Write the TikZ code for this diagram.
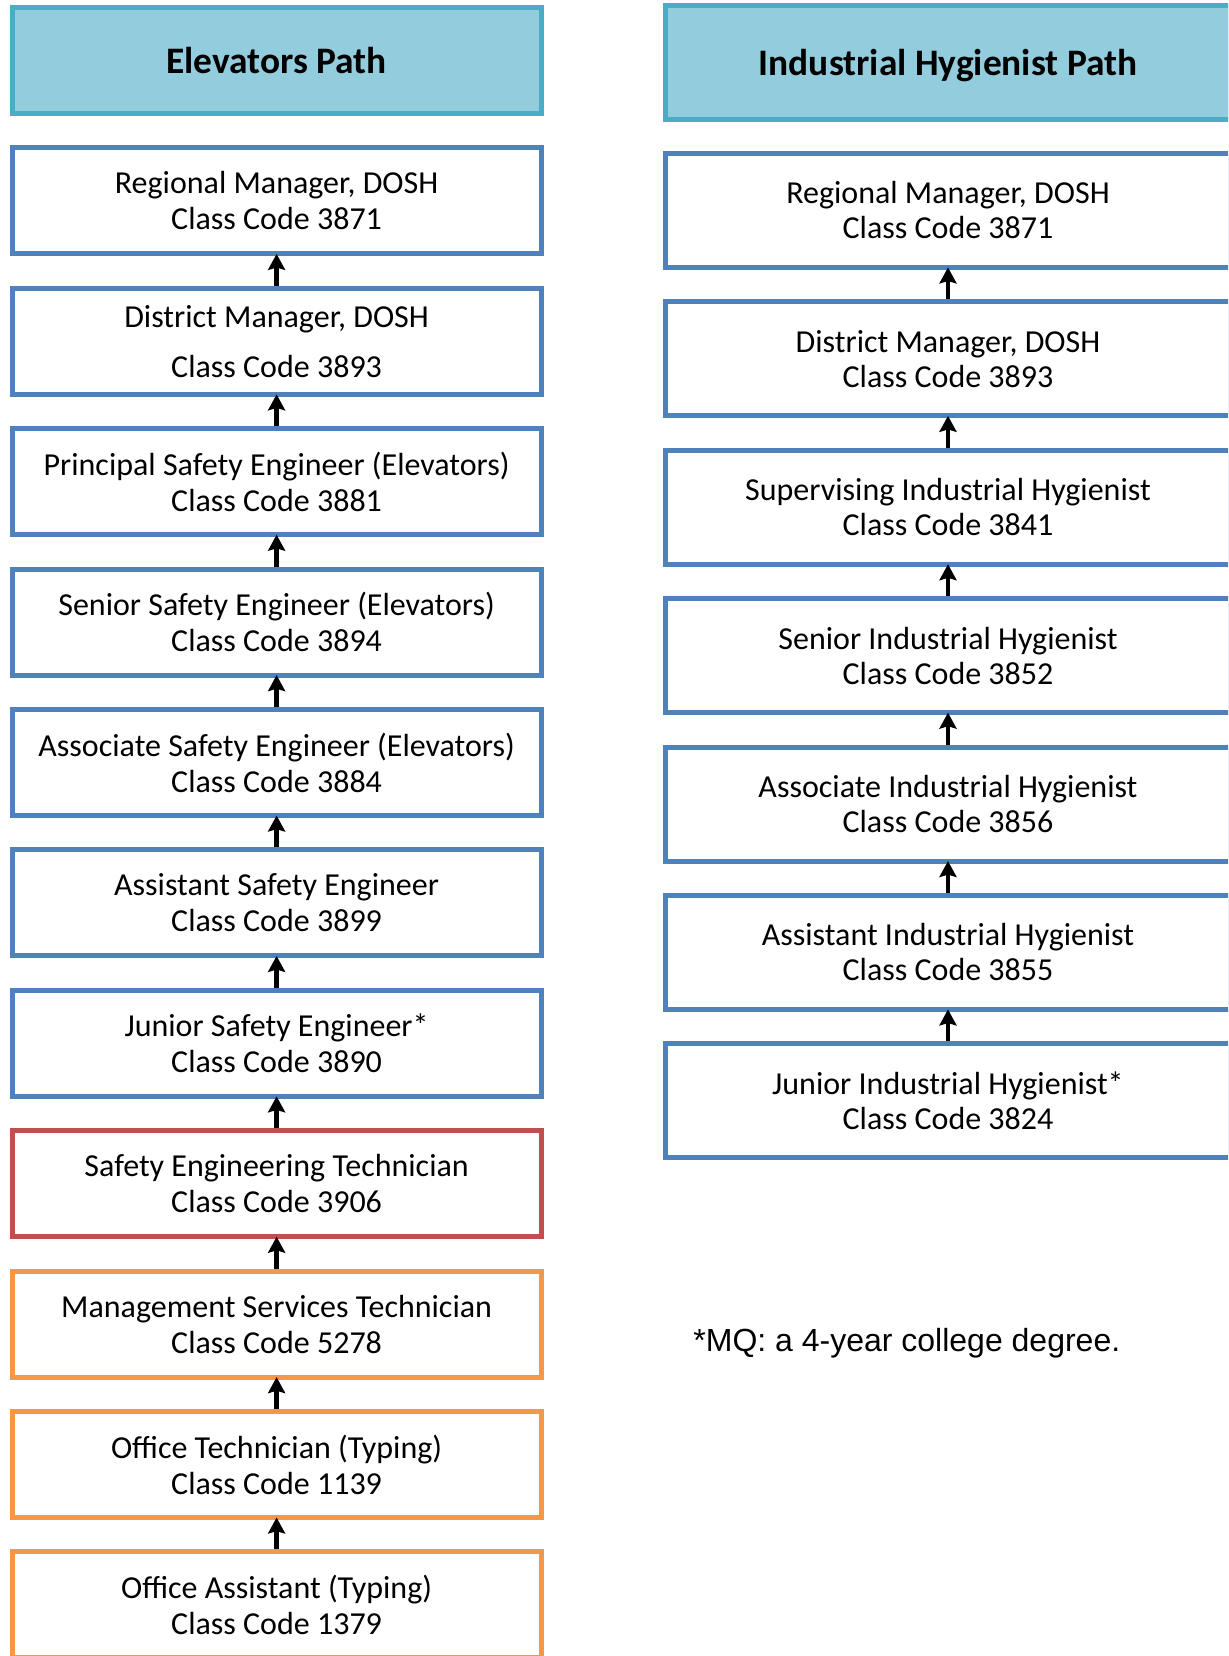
\documentclass[tikz,border=0pt]{standalone}
\usepackage{fontspec}
\setmainfont{Carlito}
\newfontfamily\arialfont{Liberation Sans}
\definecolor{hdrfill}{HTML}{93CDDD}
\definecolor{hdrline}{HTML}{4BACC6}
\definecolor{boxblue}{HTML}{4F81BD}
\definecolor{boxred}{HTML}{C0504D}
\definecolor{boxorange}{HTML}{F79646}
\usetikzlibrary{positioning,chains,arrows.meta}
\tikzset{
	>={Stealth[length=8pt,width=8.5pt,inset=1.2pt]},
	pathbox/.style={
		rectangle,
		draw=boxblue, line width=2.5pt,
		fill=white,
		inner sep=0pt, outer sep=0pt,
		align=center,
		on chain},
	leftbox/.style={pathbox,
		minimum width=264.4pt,
		minimum height=53pt,
		font=\fontsize{16pt}{18pt}\selectfont},
	rightbox/.style={pathbox,
		minimum width=282.5pt,
		minimum height=57pt,
		font=\fontsize{16pt}{17.5pt}\selectfont},
	headbox/.style={draw=hdrline, fill=hdrfill, text depth=0pt,
		font=\bfseries\fontsize{18.7pt}{22pt}\selectfont},
	redbox/.style={draw=boxred},
	orangebox/.style={draw=boxorange},
	every join/.style={<-, line width=2.2pt, shorten >=1.25pt},
}

\begin{document}
\begin{tikzpicture}
[node distance=17.2pt]
\useasboundingbox (0,0) rectangle (614pt,-828pt);
\clip (0,0) rectangle (614pt,-828pt);

% Elevators path
\begin{scope}[start chain=going below]
\node[leftbox, headbox] (ehead) at (138.3pt,-30.25pt) {Elevators Path};
\node[leftbox] (eregion) {Regional Manager, DOSH\\Class Code 3871};
\node[leftbox, join] (edistrict) {District Manager, DOSH\\[7pt]Class Code 3893};
\node[leftbox, join] (eprincipal) {Principal Safety Engineer (Elevators)\\Class Code 3881};
\node[leftbox, join] (esenior) {Senior Safety Engineer (Elevators)\\Class Code 3894};
\node[leftbox, join] (eassoc) {Associate Safety Engineer (Elevators)\\Class Code 3884};
\node[leftbox, join] (eassist) {Assistant Safety Engineer\\Class Code 3899};
\node[leftbox, join] (ejunior) {Junior Safety Engineer*\\Class Code 3890};
\node[leftbox, redbox, join] (etech) {Safety Engineering Technician\\Class Code 3906};
\node[leftbox, orangebox, join] (emgmt) {Management Services Technician\\Class Code 5278};
\node[leftbox, orangebox, join] (eofftech) {Office Technician (Typing)\\Class Code 1139};
\node[leftbox, orangebox, join] (eoffasst) {Office Assistant (Typing)\\Class Code 1379};
\end{scope}

% Industrial hygienist path
\begin{scope}[start chain=going below]
\node[rightbox, headbox] (ihead) at (474pt,-31pt) {Industrial Hygienist Path};
\node[rightbox] (iregion) {Regional Manager, DOSH\\Class Code 3871};
\node[rightbox, join] (idistrict) {District Manager, DOSH\\Class Code 3893};
\node[rightbox, join] (isuper) {Supervising Industrial Hygienist\\Class Code 3841};
\node[rightbox, join] (isenior) {Senior Industrial Hygienist\\Class Code 3852};
\node[rightbox, join] (iassoc) {Associate Industrial Hygienist\\Class Code 3856};
\node[rightbox, join] (iassist) {Assistant Industrial Hygienist\\Class Code 3855};
\node[rightbox, join] (ijunior) {Junior Industrial Hygienist*\\Class Code 3824};
\end{scope}

\node[anchor=west, inner sep=0pt, font=\arialfont\fontsize{16pt}{18pt}\selectfont]
	(mqnote) at (346.5pt,-671.5pt) {*MQ: a 4-year college degree.};
\end{tikzpicture}
\end{document}
